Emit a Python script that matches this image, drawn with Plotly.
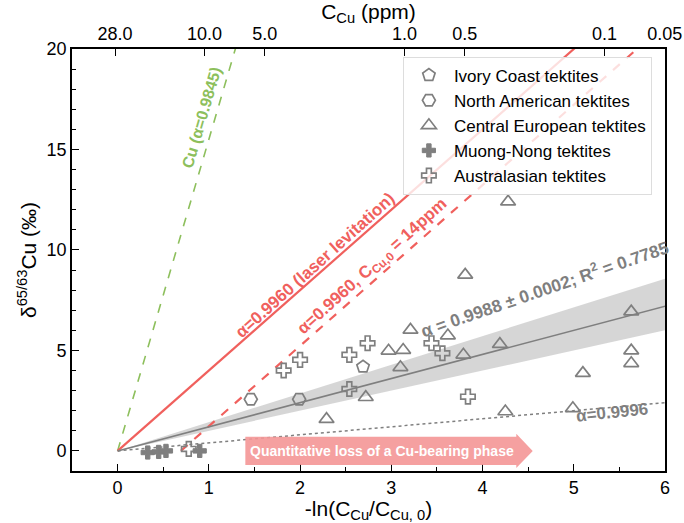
import numpy as np
import plotly.graph_objects as go

# ---------------- data ----------------
ivory_x = [2.69]
ivory_y = [4.19]

namer_x = [1.46, 1.99]
namer_y = [2.57, 2.57]

ceur_x = [4.28, 3.81, 5.63, 3.21, 3.62, 2.97, 3.13, 3.79, 4.19, 3.10, 5.63, 5.63, 5.10, 2.72, 2.29, 4.25, 4.99]
ceur_y = [12.4, 8.76, 6.93, 6.02, 5.74, 4.98, 5.02, 4.78, 5.31, 4.16, 4.99, 4.36, 3.87, 2.67, 1.58, 1.96, 2.12]

muong_x = [0.33, 0.45, 0.53, 0.90]
muong_y = [-0.08, -0.05, 0.0, 0.0]

aus_x = [2.74, 2.54, 3.44, 3.56, 2.54, 3.84, 2.00, 1.82, 0.78]
aus_y = [5.36, 4.78, 5.36, 4.86, 3.08, 2.70, 4.53, 4.00, 0.10]

alpha_cu = 0.9845
alpha_laser = 0.9960
alpha_fit = 0.9988
alpha_fit_err = 0.0002
alpha_low = 0.9996
c0_ppm = 28.0
c0_alt_ppm = 14.0

top_tick_vals = [28, 10, 5, 1, 0.5, 0.1, 0.05]
top_tick_text = ["28.0", "10.0", "5.0", "1.0", "0.5", "0.1", "0.05"]

# ---------------- styles ----------------
GREY = "#7f7f7f"
RED = "#f0605d"
GREEN = "#8dbf5c"
FONT = "Liberation Sans, Arial, sans-serif"

xline = np.linspace(0, 6.2, 200)

def slope(a):
    return (1 - a) * 1000.0

fig = go.Figure()

# confidence band
s_hi = slope(alpha_fit - alpha_fit_err) * 1.02
s_lo = slope(alpha_fit + alpha_fit_err)
fig.add_trace(go.Scatter(
    x=np.concatenate([xline, xline[::-1]]),
    y=np.concatenate([s_hi * xline, (s_lo * xline)[::-1]]),
    fill="toself", fillcolor="rgba(200,200,200,0.75)", line=dict(width=0),
    mode="lines", showlegend=False, hoverinfo="skip"))

# model lines
fig.add_trace(go.Scatter(x=xline, y=slope(alpha_cu) * xline, mode="lines",
                         line=dict(color=GREEN, width=1.6, dash="dash"),
                         showlegend=False, hoverinfo="skip"))
fig.add_trace(go.Scatter(x=xline, y=slope(alpha_laser) * xline, mode="lines",
                         line=dict(color=RED, width=2.2),
                         showlegend=False, hoverinfo="skip"))
x0_alt = np.log(c0_ppm / c0_alt_ppm)
xl2 = np.linspace(x0_alt, 6.2, 200)
fig.add_trace(go.Scatter(x=xl2, y=slope(alpha_laser) * (xl2 - x0_alt), mode="lines",
                         line=dict(color=RED, width=2.2, dash="dash"),
                         showlegend=False, hoverinfo="skip"))
fig.add_trace(go.Scatter(x=xline, y=slope(alpha_fit) * xline, mode="lines",
                         line=dict(color=GREY, width=1.6),
                         showlegend=False, hoverinfo="skip"))
fig.add_trace(go.Scatter(x=xline, y=slope(alpha_low) * xline, mode="lines",
                         line=dict(color=GREY, width=1.5, dash="dot"),
                         showlegend=False, hoverinfo="skip"))

# data points
mk = dict(size=13, color=GREY, line=dict(color=GREY, width=1.7))
mk_small = dict(size=12, color=GREY, line=dict(color=GREY, width=1.7))
fig.add_trace(go.Scatter(x=ivory_x, y=ivory_y, mode="markers", name="Ivory Coast tektites",
                         marker=dict(symbol="pentagon-open", **mk)))
fig.add_trace(go.Scatter(x=namer_x, y=namer_y, mode="markers", name="North American tektites",
                         marker=dict(symbol="hexagon2-open", **mk)))
fig.add_trace(go.Scatter(x=ceur_x, y=ceur_y, mode="markers", name="Central European tektites",
                         marker=dict(symbol="triangle-up-open", **mk)))
fig.add_trace(go.Scatter(x=muong_x, y=muong_y, mode="markers", name="Muong-Nong tektites",
                         marker=dict(symbol="cross", size=11, color=GREY,
                                     line=dict(color=GREY, width=1))))
fig.add_trace(go.Scatter(x=aus_x, y=aus_y, mode="markers", name="Australasian tektites",
                         marker=dict(symbol="cross-open", **mk_small)))

# dummy trace for top axis
fig.add_trace(go.Scatter(x=[1], y=[None], xaxis="x2", mode="markers",
                         showlegend=False, hoverinfo="skip"))

# arrow
fig.add_shape(type="path",
              path="M 1.40 -0.70 L 4.37 -0.70 L 4.37 -0.85 L 4.55 0 L 4.37 0.85 L 4.37 0.70 L 1.40 0.70 Z",
              fillcolor="rgba(244,150,150,0.9)", line=dict(width=0), layer="above")

annots = [
    dict(x=0.92, y=16.6, text="Cu (α=0.9845)", textangle=-73.7, color=GREEN, size=16),
    dict(x=2.16, y=9.25, text="α=0.9960 (laser levitation)", textangle=-42, color=RED, size=17),
    dict(x=2.80, y=9.15, text="α=0.9960, C<sub>Cu,0</sub> = 14ppm", textangle=-42, color=RED, size=17),
    dict(x=4.68, y=8.1, text="α = 0.9988 ± 0.0002; R<sup>2</sup> = 0.7785", textangle=-19, color=GREY, size=17.5),
    dict(x=5.42, y=1.92, text="α=0.9996", textangle=-6, color=GREY, size=17),
    dict(x=2.90, y=0.0, text="Quantitative loss of a Cu-bearing phase", textangle=0, color="white", size=14),
]
for a in annots:
    fig.add_annotation(x=a["x"], y=a["y"], xref="x", yref="y", text="<b>%s</b>" % a["text"],
                       textangle=a["textangle"], showarrow=False,
                       font=dict(color=a["color"], size=a["size"], family=FONT),
                       xanchor="center", yanchor="middle")

fig.update_layout(
    width=684, height=523,
    margin=dict(l=72, r=19, t=49, b=52),
    plot_bgcolor="white", paper_bgcolor="white",
    font=dict(family=FONT, size=18, color="black"),
    showlegend=True,
    legend=dict(x=0.558, y=0.982, xanchor="left", yanchor="top",
                bgcolor="rgba(255,255,255,0.8)", bordercolor="#dddddd", borderwidth=1,
                font=dict(size=17, family=FONT), tracegroupgap=0,
                itemwidth=40),
    xaxis=dict(range=[-0.5, 6], tickvals=[0, 1, 2, 3, 4, 5, 6], ticks="inside", ticklen=7,
               tickwidth=1.3, tickcolor="black", automargin=False,
               minor=dict(dtick=0.5, tick0=0, ticks="inside", ticklen=4, tickcolor="black"),
               showline=True, linecolor="black", linewidth=1.6, mirror=False,
               showgrid=False, zeroline=False,
               title=dict(text="-ln(C<sub>Cu</sub>/C<sub>Cu, 0</sub>)", font=dict(size=21), standoff=6),
               tickfont=dict(size=18)),
    xaxis2=dict(type="log", overlaying="x", side="top", anchor="y", automargin=False,
                range=[np.log10(28) + 43 / 199.8, np.log10(0.05) - 0.3 / 199.8],
                tickvals=top_tick_vals, ticktext=top_tick_text,
                ticks="inside", ticklen=7, tickwidth=1.3, tickcolor="black",
                showline=True, linecolor="black", linewidth=1.6,
                showgrid=False, zeroline=False,
                title=dict(text="C<sub>Cu</sub> (ppm)", font=dict(size=21), standoff=2),
                tickfont=dict(size=18)),
    yaxis=dict(range=[-1, 20], tickvals=[0, 5, 10, 15, 20], ticks="inside", ticklen=7,
               tickwidth=1.3, tickcolor="black", automargin=False,
               minor=dict(dtick=1, tick0=0, ticks="inside", ticklen=4, tickcolor="black"),
               showline=True, linecolor="black", linewidth=1.6, mirror=True,
               showgrid=False, zeroline=False,
               title=dict(text="δ<sup>65/63</sup>Cu (‰)", font=dict(size=21), standoff=4),
               tickfont=dict(size=18)),
)

fig.write_html("out.html", config={"displayModeBar": False},
               post_script="document.body.style.margin='0';document.body.style.padding='0';")
